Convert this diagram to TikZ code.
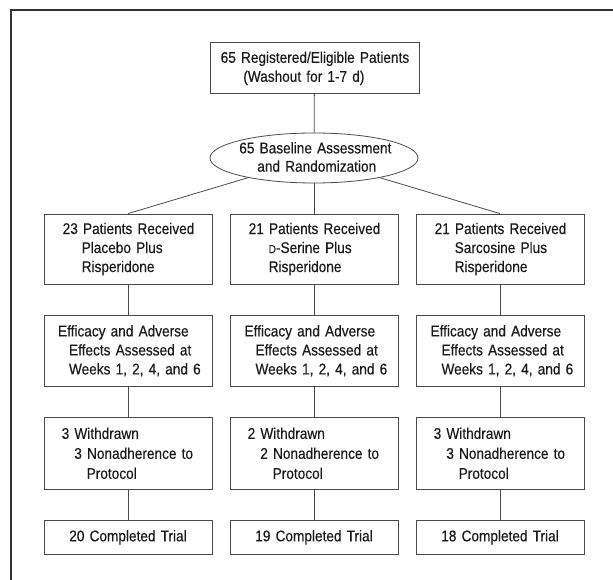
\documentclass[tikz,border=0pt]{standalone}
\usepackage{fontspec}
\setmainfont[FakeStretch=0.88,FakeBold=0.3]{Liberation Sans}
\usepackage{tikz}
\usepackage{xcolor}
\usetikzlibrary{positioning,shapes.geometric}
\definecolor{ink}{HTML}{1A1A1A}
\definecolor{rule}{HTML}{4A4A4A}
\definecolor{framegray}{HTML}{333333}
\newcommand{\ind}[1]{\hspace*{#1pt}}
\newcommand{\smc}[1]{{\fontsize{11.5}{19}\selectfont #1}}
\tikzset{
  flowtext/.style={font=\fontsize{15.5}{19}\selectfont,text=ink,align=left},
  armbox/.style={flowtext,draw=rule,line width=0.8pt,inner sep=0pt,
                 minimum width=168pt,text width=168pt},
  topbox/.style={flowtext,draw=rule,line width=0.8pt,inner sep=0pt,
                 minimum width=209pt,text width=209pt,minimum height=51pt},
  randell/.style={ellipse,draw=rule,line width=0.8pt,inner sep=0pt,
                  minimum width=208pt,minimum height=50pt},
  link/.style={draw=rule,line width=0.8pt},
  framerule/.style={draw=framegray,line width=1.3pt}
}

\begin{document}
\begin{tikzpicture}[x=1pt,y=-1pt]
  \useasboundingbox (0,0) rectangle (613,580);
  % open frame (only top and left edge shown)
  \draw[framerule] (11,580) -- (11,10) -- (613,10);

  % enrolment and randomization
  \node[topbox] (reg) at (314.5,68.3)
    {\ind{10.7}65 Registered/Eligible Patients\\ \ind{33.3}(Washout for 1-7 d)};
  \node[randell] (rand) at (314,158) {};
  \node[flowtext,font=\fontsize{15.5}{18.3}\selectfont,inner sep=0pt,text width=170pt]
    (randtxt) at ([yshift=1pt]rand.center)
    {\ind{10.3}65 Baseline Assessment\\ \ind{28.3}and Randomization};

  % arms
  \node[armbox,minimum height=70pt] (pla) at (128,249)
    {\ind{18.7}23 Patients Received\\ \ind{37.7}Placebo Plus\\ \ind{37.7}Risperidone};
  \node[armbox,minimum height=70pt] (ser) at (314,249)
    {\ind{18.7}21 Patients Received\\ \ind{38.7}\smc{D}-Serine Plus\\ \ind{38.7}Risperidone};
  \node[armbox,minimum height=70pt] (sar) at (500,249)
    {\ind{18.7}21 Patients Received\\ \ind{38.7}Sarcosine Plus\\ \ind{38.7}Risperidone};

  % assessments
  \node[armbox,minimum height=71.7pt] (plaeff) at (128,350.8)
    {\ind{14}Efficacy and Adverse\\ \ind{25}Effects Assessed at\\ \ind{25}Weeks 1, 2, 4, and 6};
  \node[armbox,minimum height=71.7pt] (sereff) at (314,350.8)
    {\ind{14.5}Efficacy and Adverse\\ \ind{25.5}Effects Assessed at\\ \ind{25.5}Weeks 1, 2, 4, and 6};
  \node[armbox,minimum height=71.7pt] (sareff) at (500,350.8)
    {\ind{14.5}Efficacy and Adverse\\ \ind{25.5}Effects Assessed at\\ \ind{25.5}Weeks 1, 2, 4, and 6};

  % withdrawals
  \node[armbox,minimum height=72pt,font=\fontsize{15.5}{20}\selectfont] (plawd) at (128,453.3)
    {\ind{17.7}3 Withdrawn\\ \ind{30.3}3 Nonadherence to\\ \ind{42.7}Protocol};
  \node[armbox,minimum height=72pt,font=\fontsize{15.5}{20}\selectfont] (serwd) at (314,453.3)
    {\ind{17.7}2 Withdrawn\\ \ind{30.3}2 Nonadherence to\\ \ind{42.7}Protocol};
  \node[armbox,minimum height=72pt,font=\fontsize{15.5}{20}\selectfont] (sarwd) at (500,453.3)
    {\ind{17.7}3 Withdrawn\\ \ind{30.3}3 Nonadherence to\\ \ind{42.7}Protocol};

  % completers
  \node[armbox,minimum height=33.3pt,align=center] (placmp) at (128,537.3) {20 Completed Trial};
  \node[armbox,minimum height=33.3pt,align=center] (sercmp) at (314,537.3) {19 Completed Trial};
  \node[armbox,minimum height=33.3pt,align=center] (sarcmp) at (500,537.3) {18 Completed Trial};

  % connectors
  \draw[link] (reg) -- (rand);
  \draw[link] (rand) -- (pla.north);
  \draw[link] (rand) -- (ser.north);
  \draw[link] (rand) -- (sar.north);
  \draw[link] (pla) -- (plaeff);
  \draw[link] (ser) -- (sereff);
  \draw[link] (sar) -- (sareff);
  \draw[link] (plaeff) -- (plawd);
  \draw[link] (sereff) -- (serwd);
  \draw[link] (sareff) -- (sarwd);
  \draw[link] (plawd) -- (placmp);
  \draw[link] (serwd) -- (sercmp);
  \draw[link] (sarwd) -- (sarcmp);
\end{tikzpicture}
\end{document}
